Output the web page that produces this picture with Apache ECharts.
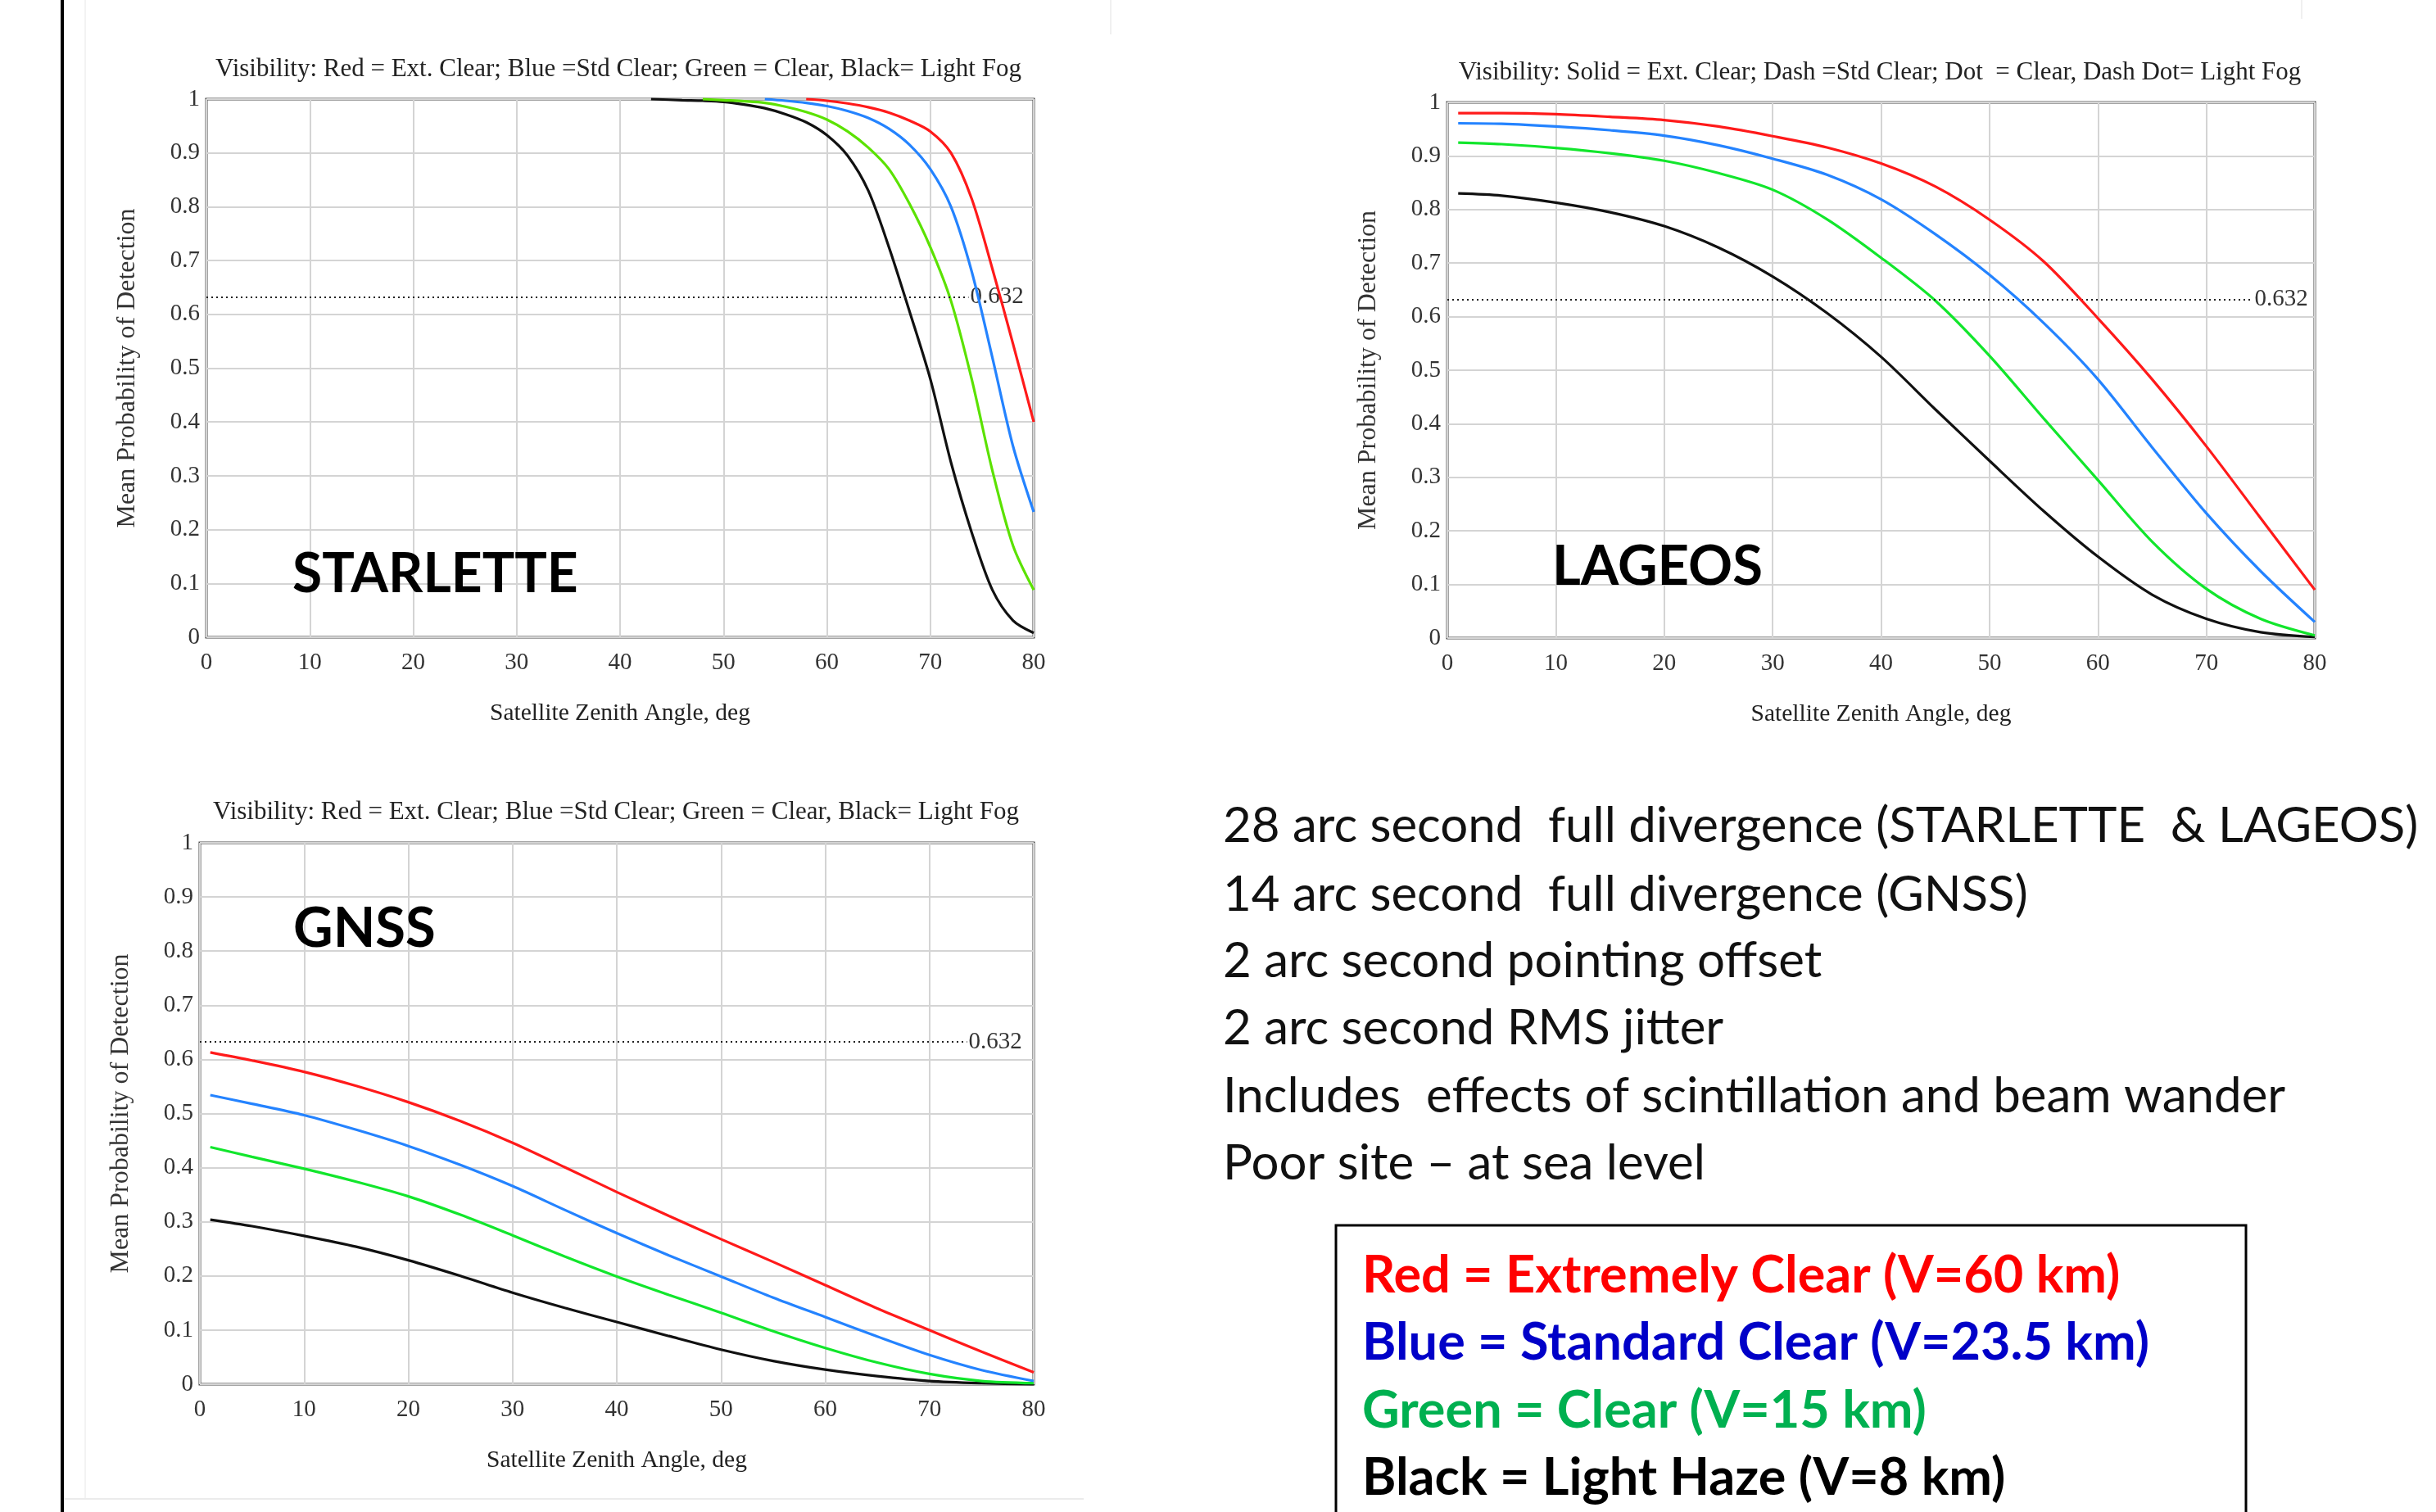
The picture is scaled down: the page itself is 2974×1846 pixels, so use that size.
<!DOCTYPE html>
<html>
<head>
<meta charset="utf-8">
<script src="https://cdn.jsdelivr.net/npm/echarts@6/dist/echarts.min.js"></script>
<style>
  html, body { margin: 0; padding: 0; background: #ffffff; }
  #main { width: 2974px; height: 1846px; }
</style>
</head>
<body>
<div id="main"></div>
<script>
// ---------------- DATA ----------------
const THRESHOLD = 0.632;
const xTicks = [0, 10, 20, 30, 40, 50, 60, 70, 80];

// STARLETTE (zenith angle, deg)
const starX = [43, 46, 48, 50, 52, 54, 56, 58, 60, 62, 64, 66, 68, 70, 72, 74, 76, 78, 80];
const starRed   = [null, null, null, null, null, null, null, 1.0, 0.997, 0.992, 0.985, 0.975, 0.96, 0.94, 0.90, 0.815, 0.685, 0.545, 0.40];
const starBlue  = [null, null, null, null, null, 1.0, 0.997, 0.993, 0.987, 0.978, 0.965, 0.945, 0.915, 0.87, 0.80, 0.68, 0.52, 0.355, 0.233];
const starGreen = [null, null, 1.0, 0.998, 0.996, 0.993, 0.986, 0.976, 0.962, 0.94, 0.91, 0.87, 0.805, 0.725, 0.625, 0.48, 0.31, 0.17, 0.088];
const starBlack = [1.0, 0.998, 0.997, 0.995, 0.99, 0.983, 0.972, 0.957, 0.933, 0.895, 0.83, 0.725, 0.605, 0.48, 0.325, 0.195, 0.088, 0.031, 0.008];

// LAGEOS
const lagX = [1, 5, 10, 15, 20, 25, 30, 35, 40, 45, 50, 55, 60, 65, 70, 75, 80];
const lagRed   = [0.980, 0.980, 0.978, 0.973, 0.967, 0.955, 0.937, 0.916, 0.886, 0.843, 0.781, 0.703, 0.597, 0.483, 0.358, 0.224, 0.09];
const lagBlue  = [0.961, 0.960, 0.955, 0.948, 0.938, 0.920, 0.895, 0.865, 0.819, 0.754, 0.678, 0.588, 0.483, 0.356, 0.233, 0.125, 0.03];
const lagGreen = [0.925, 0.922, 0.915, 0.905, 0.891, 0.868, 0.837, 0.782, 0.710, 0.630, 0.527, 0.410, 0.295, 0.180, 0.092, 0.036, 0.005];
const lagBlack = [0.830, 0.826, 0.813, 0.795, 0.769, 0.729, 0.675, 0.607, 0.525, 0.427, 0.331, 0.237, 0.152, 0.081, 0.036, 0.011, 0.002];

// GNSS
const gnssX = [1, 5, 10, 15, 20, 25, 30, 35, 40, 45, 50, 55, 60, 65, 70, 75, 80];
const gnssRed   = [0.613, 0.598, 0.577, 0.551, 0.521, 0.486, 0.446, 0.401, 0.355, 0.311, 0.268, 0.226, 0.183, 0.140, 0.100, 0.060, 0.022];
const gnssBlue  = [0.534, 0.518, 0.497, 0.470, 0.440, 0.405, 0.366, 0.322, 0.279, 0.238, 0.199, 0.160, 0.124, 0.088, 0.054, 0.026, 0.006];
const gnssGreen = [0.438, 0.420, 0.398, 0.374, 0.347, 0.313, 0.275, 0.236, 0.199, 0.165, 0.132, 0.098, 0.067, 0.040, 0.019, 0.006, 0.002];
const gnssBlack = [0.304, 0.292, 0.274, 0.254, 0.229, 0.200, 0.169, 0.141, 0.115, 0.089, 0.064, 0.043, 0.027, 0.015, 0.006, 0.002, 0.0];

// Texts
const titleColor = 'Visibility: Red = Ext. Clear; Blue =Std Clear; Green = Clear, Black= Light Fog';
const titleStyle = 'Visibility: Solid = Ext. Clear; Dash =Std Clear; Dot  = Clear, Dash Dot= Light Fog';
const xName = 'Satellite Zenith Angle, deg';
const yName = 'Mean Probability of Detection';
const panelNames = ['STARLETTE', 'LAGEOS', 'GNSS'];
const noteLines = [
  '28 arc second  full divergence (STARLETTE  & LAGEOS)',
  '14 arc second  full divergence (GNSS)',
  '2 arc second pointing offset',
  '2 arc second RMS jitter',
  'Includes  effects of scintillation and beam wander',
  'Poor site \u2013 at sea level'
];
const legendLines = [
  'Red = Extremely Clear (V=60 km)',
  'Blue = Standard Clear (V=23.5 km)',
  'Green = Clear (V=15 km)',
  'Black = Light Haze (V=8 km)'
];
const legendColors = ['#ff0000', '#0000c8', '#00b050', '#000000'];

// ---------------- CHART ----------------
const SERIF = '"Liberation Serif", "Times New Roman", serif';
const SANS = 'Lato, "Open Sans", sans-serif';

const grids = [
  { left: 252, top: 121, width: 1010, height: 657 },
  { left: 1767, top: 125, width: 1059, height: 654 },
  { left: 244, top: 1029, width: 1018, height: 661 }
];

function pairs(xs, ys) {
  const out = [];
  for (let i = 0; i < xs.length; i++) if (ys[i] !== null) out.push([xs[i], ys[i]]);
  return out;
}

const lineColors = { red: '#ff1a1a', blue: '#2483ff', black: '#111111' };
const greenColors = ['#5be200', '#12e62c', '#12e62c'];
const thresholdEnds = [73.7, 74.3, 73.6];

const panels = [
  { xs: starX, r: starRed, b: starBlue, g: starGreen, k: starBlack },
  { xs: lagX, r: lagRed, b: lagBlue, g: lagGreen, k: lagBlack },
  { xs: gnssX, r: gnssRed, b: gnssBlue, g: gnssGreen, k: gnssBlack }
];

const xAxes = [], yAxes = [], series = [];
const gridOpts = grids.map(g => Object.assign({
  show: true, borderColor: '#4a4a4a', borderWidth: 3, backgroundColor: '#ffffff'
}, g));

grids.forEach((g, i) => {
  xAxes.push({
    gridIndex: i, type: 'value', min: 0, max: 80, interval: 10,
    axisLine: { show: false }, axisTick: { show: false },
    splitLine: { show: true, lineStyle: { color: '#d4d4d4', width: 2 } },
    axisLabel: { margin: 17, fontFamily: SERIF, fontSize: 29, color: '#333' },
    name: xName, nameLocation: 'middle', nameGap: 78,
    nameTextStyle: { fontFamily: SERIF, fontSize: 29.5, color: '#222' }
  });
  yAxes.push({
    gridIndex: i, type: 'value', min: 0, max: 1, interval: 0.1,
    axisLine: { show: false }, axisTick: { show: false },
    splitLine: { show: true, lineStyle: { color: '#d4d4d4', width: 2 } },
    axisLabel: { margin: 8, fontFamily: SERIF, fontSize: 29, color: '#333',
      formatter: v => String(Math.round(v * 10) / 10) },
    name: yName, nameLocation: 'middle', nameGap: 80,
    nameTextStyle: { fontFamily: SERIF, fontSize: 32, color: '#333' }
  });
  const p = panels[i];
  const defs = [
    { key: 'k', color: lineColors.black },
    { key: 'g', color: greenColors[i] },
    { key: 'b', color: lineColors.blue },
    { key: 'r', color: lineColors.red }
  ];
  defs.forEach((d, j) => {
    const s = {
      type: 'line', xAxisIndex: i, yAxisIndex: i,
      data: pairs(p.xs, p[d.key]),
      showSymbol: false, smooth: 0.3, clip: false,
      lineStyle: { color: d.color, width: 3.2 }, silent: true, z: 3 + j
    };
    if (j === 0) {
      s.markLine = {
        silent: true, symbol: 'none',
        lineStyle: { color: '#222', width: 2, type: [2, 4] },
        label: { show: true, position: 'end', distance: 2, formatter: String(THRESHOLD),
          fontFamily: SERIF, fontSize: 29, color: '#333' },
        data: [[{ coord: [0, THRESHOLD] }, { coord: [thresholdEnds[i], THRESHOLD] }]]
      };
    }
    series.push(s);
  });
});

const graphic = [];
// slide artefacts
graphic.push({ type: 'rect', shape: { x: 74, y: 0, width: 4, height: 1846 }, style: { fill: '#000' }, silent: true });
graphic.push({ type: 'line', shape: { x1: 104, y1: 0, x2: 104, y2: 1830 }, style: { stroke: '#f3f3f3', lineWidth: 2 }, silent: true });
graphic.push({ type: 'line', shape: { x1: 78, y1: 1830, x2: 1323, y2: 1830 }, style: { stroke: '#ebebeb', lineWidth: 2 }, silent: true });
graphic.push({ type: 'line', shape: { x1: 1356, y1: 0, x2: 1356, y2: 42 }, style: { stroke: '#f0f0f0', lineWidth: 2 }, silent: true });
graphic.push({ type: 'line', shape: { x1: 2810, y1: 0, x2: 2810, y2: 23 }, style: { stroke: '#f0f0f0', lineWidth: 2 }, silent: true });

// titles
const titles = [
  { text: titleColor, x: 755, y: 85 },
  { text: titleStyle, x: 2295, y: 89 },
  { text: titleColor, x: 752, y: 992 }
];
titles.forEach(t => graphic.push({
  type: 'text', x: t.x, y: t.y, silent: true,
  style: { text: t.text, fontFamily: SERIF, fontSize: 31, fill: '#222', align: 'center', verticalAlign: 'middle' }
}));

// panel names
const namePos = [{ x: 357, y: 702 }, { x: 1895, y: 692 }, { x: 358, y: 1134 }];
const nameSizes = [66, 67, 67];
panelNames.forEach((n, i) => graphic.push({
  type: 'text', x: namePos[i].x, y: namePos[i].y, silent: true, z: 10,
  style: { text: n, fontFamily: SANS, fontWeight: 'bold', fontSize: nameSizes[i], fill: '#000', align: 'left', verticalAlign: 'middle' }
}));

// notes
const noteY = [1009, 1093, 1174, 1256, 1339, 1421];
noteLines.forEach((t, i) => graphic.push({
  type: 'text', x: 1493, y: noteY[i], silent: true,
  style: { text: t, fontFamily: SANS, fontSize: 60, fill: '#111', align: 'left', verticalAlign: 'middle' }
}));

// legend box
graphic.push({ type: 'rect', shape: { x: 1631, y: 1496, width: 1111, height: 420 },
  style: { fill: '#fff', stroke: '#000', lineWidth: 3 }, silent: true });
const legY = [1558, 1640, 1723, 1805];
legendLines.forEach((t, i) => graphic.push({
  type: 'text', x: 1663, y: legY[i], silent: true, z: 10,
  style: { text: t, fontFamily: SANS, fontWeight: 'bold', fontSize: 63, fill: legendColors[i], align: 'left', verticalAlign: 'middle' }
}));

const chart = echarts.init(document.getElementById('main'), null, { renderer: 'canvas' });
chart.setOption({
  backgroundColor: '#ffffff',
  animation: false,
  grid: gridOpts,
  xAxis: xAxes,
  yAxis: yAxes,
  series: series,
  graphic: graphic
});
</script>
</body>
</html>
